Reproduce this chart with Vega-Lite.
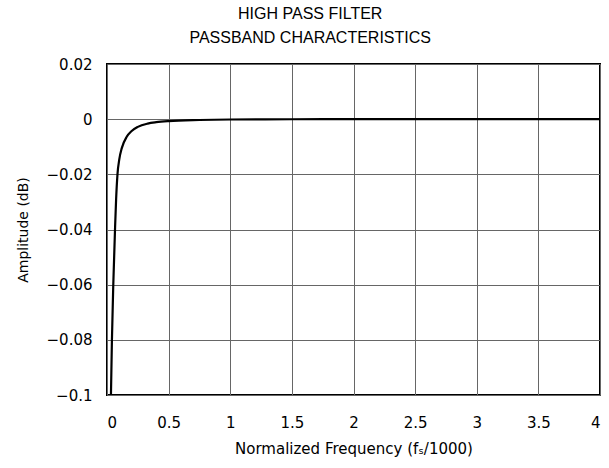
{
  "$schema": "https://vega.github.io/schema/vega-lite/v6.json",
  "width": 493,
  "height": 331,
  "autosize": {"type": "none"},
  "padding": {"left": 107, "top": 64, "right": 9, "bottom": 73},
  "background": "white",
  "title": {
    "text": ["HIGH PASS FILTER", "PASSBAND CHARACTERISTICS"],
    "font": "Liberation Sans",
    "fontSize": 16,
    "fontWeight": "normal",
    "color": "#000",
    "lineHeight": 24,
    "frame": "bounds",
    "anchor": "middle",
    "offset": 11
  },
  "config": {
    "view": {"stroke": "#000", "strokeWidth": 2},
    "axis": {
      "labelFont": "DejaVu Sans",
      "titleFont": "DejaVu Sans",
      "labelColor": "#000",
      "titleColor": "#000",
      "labelFontSize": 15,
      "titleFontSize": 14,
      "titleFontWeight": "normal",
      "gridColor": "#666",
      "gridWidth": 1,
      "gridOpacity": 1,
      "domain": false,
      "ticks": false
    }
  },
  "data": {
    "values": [
      {"f": 0.032, "db": -0.1},
      {"f": 0.04, "db": -0.08},
      {"f": 0.051, "db": -0.06},
      {"f": 0.065, "db": -0.04},
      {"f": 0.074, "db": -0.029},
      {"f": 0.085, "db": -0.02},
      {"f": 0.1, "db": -0.0145},
      {"f": 0.12, "db": -0.0105},
      {"f": 0.16, "db": -0.0064},
      {"f": 0.2, "db": -0.0043},
      {"f": 0.25, "db": -0.0028},
      {"f": 0.33, "db": -0.0016},
      {"f": 0.4, "db": -0.0011},
      {"f": 0.5, "db": -0.0007},
      {"f": 0.75, "db": -0.0003},
      {"f": 1.0, "db": -0.00012},
      {"f": 1.5, "db": -0.00003},
      {"f": 2.0, "db": 0},
      {"f": 4.0, "db": 0}
    ]
  },
  "mark": {"type": "line", "color": "#000", "strokeWidth": 2.2, "interpolate": "monotone"},
  "encoding": {
    "x": {
      "field": "f",
      "type": "quantitative",
      "scale": {"domain": [0, 4], "nice": false, "zero": false},
      "axis": {
        "values": [0, 0.5, 1, 1.5, 2, 2.5, 3, 3.5, 4],
        "labelExpr": "format(datum.value, '~g')",
        "labelPadding": 20,
        "title": "Normalized Frequency (fₛ/1000)",
        "titleFontSize": 15,
        "titlePadding": 11
      }
    },
    "y": {
      "field": "db",
      "type": "quantitative",
      "scale": {"domain": [-0.1, 0.02], "nice": false, "zero": false},
      "axis": {
        "values": [-0.1, -0.08, -0.06, -0.04, -0.02, 0, 0.02],
        "labelExpr": "datum.value == 0 ? '0' : (datum.value < 0 ? '−' : '') + format(abs(datum.value), '~g')",
        "labelPadding": 15,
        "title": "Amplitude (dB)",
        "titlePadding": 16
      }
    }
  }
}
